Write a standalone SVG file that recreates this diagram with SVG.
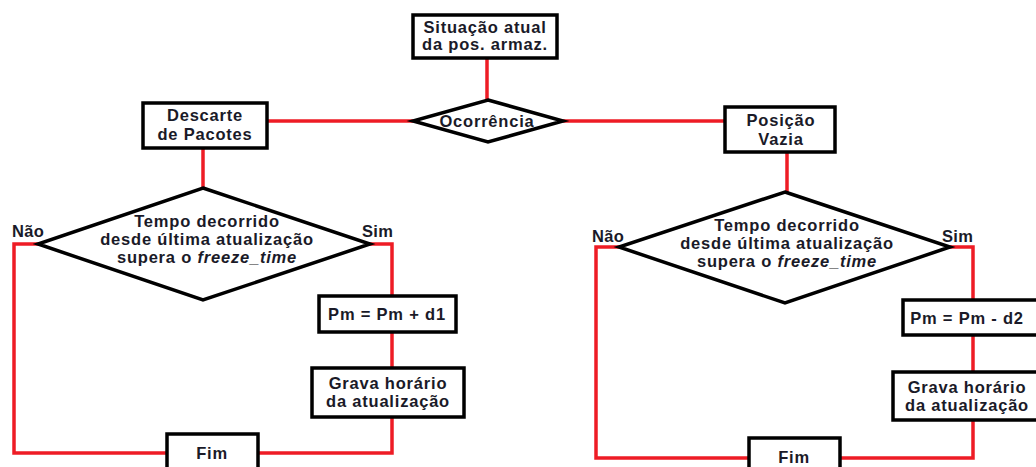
<svg xmlns="http://www.w3.org/2000/svg" width="1036" height="467" viewBox="0 0 1036 467">
<style>
.box{fill:#fff;stroke:#000;stroke-width:3.5}
.dia{fill:#fff;stroke:#000;stroke-width:3.5;stroke-linejoin:miter}
.wire{fill:none;stroke:#ee1c25;stroke-width:3.5}
text{font-family:"Liberation Sans",Arial,sans-serif;font-weight:bold;font-size:16.5px;letter-spacing:0.8px;fill:#1a1a28;text-anchor:middle}
.lbl{text-anchor:start;letter-spacing:0.3px}
</style>
<rect width="1036" height="467" fill="#fff"/>
<g id="connectors">
<path class="wire" d="M487 58 V100"/>
<path class="wire" d="M267 121 H413"/>
<path class="wire" d="M563 121 H725"/>
<path class="wire" d="M203 148 V188"/>
<path class="wire" d="M787 152 V192"/>
<path class="wire" d="M38 244 H14 V453 H167"/>
<path class="wire" d="M370 244 H392 V296"/>
<path class="wire" d="M392 332 V368"/>
<path class="wire" d="M392 417 V453 H258"/>
<path class="wire" d="M619 247 H596 V458 H749"/>
<path class="wire" d="M950 247 H973 V300"/>
<path class="wire" d="M973 335 V372"/>
<path class="wire" d="M973 420 V458 H840"/>
</g>
<g id="n-situacao">
<rect class="box" x="413" y="15" width="144" height="43"/>
<text x="485" y="33">Situação atual</text>
<text x="485" y="50">da pos. armaz.</text>
</g>
<g id="n-ocorrencia">
<polygon class="dia" points="488,100 563,121 488,142 413,121"/>
<text x="487" y="127">Ocorrência</text>
</g>
<g id="n-descarte">
<rect class="box" x="143" y="103" width="124" height="45"/>
<text x="205" y="121">Descarte</text>
<text x="205" y="140">de Pacotes</text>
</g>
<g id="n-posicao">
<rect class="box" x="725" y="107" width="110" height="45"/>
<text x="781" y="126">Posição</text>
<text x="781" y="145">Vazia</text>
</g>
<g id="n-dec-left">
<polygon class="dia" points="203,188 370,244 203,300 38,244"/>
<text x="207" y="227">Tempo decorrido</text>
<text x="207" y="245">desde última atualização</text>
<text x="207" y="263">supera o <tspan font-style="italic">freeze_time</tspan></text>
</g>
<text class="lbl" x="12" y="237">Não</text>
<text class="lbl" x="362" y="237">Sim</text>
<g id="n-pm-d1">
<rect class="box" x="319" y="296" width="137" height="36"/>
<text x="387" y="320">Pm = Pm + d1</text>
</g>
<g id="n-grava-left">
<rect class="box" x="312" y="368" width="152" height="49"/>
<text x="388" y="389">Grava horário</text>
<text x="388" y="407">da atualização</text>
</g>
<g id="n-fim-left">
<rect class="box" x="167" y="434" width="91" height="40"/>
<text x="212" y="459">Fim</text>
</g>
<g id="n-dec-right">
<polygon class="dia" points="785,192 950,247 785,303 619,247"/>
<text x="787" y="231">Tempo decorrido</text>
<text x="787" y="249">desde última atualização</text>
<text x="787" y="267">supera o <tspan font-style="italic">freeze_time</tspan></text>
</g>
<text class="lbl" x="592" y="242">Não</text>
<text class="lbl" x="942" y="242">Sim</text>
<g id="n-pm-d2">
<rect class="box" x="903" y="300" width="140" height="35"/>
<text x="967" y="324">Pm = Pm - d2</text>
</g>
<g id="n-grava-right">
<rect class="box" x="893" y="372" width="160" height="48"/>
<text x="967" y="393">Grava horário</text>
<text x="967" y="411">da atualização</text>
</g>
<g id="n-fim-right">
<rect class="box" x="749" y="438" width="91" height="40"/>
<text x="794" y="463">Fim</text>
</g>
</svg>
